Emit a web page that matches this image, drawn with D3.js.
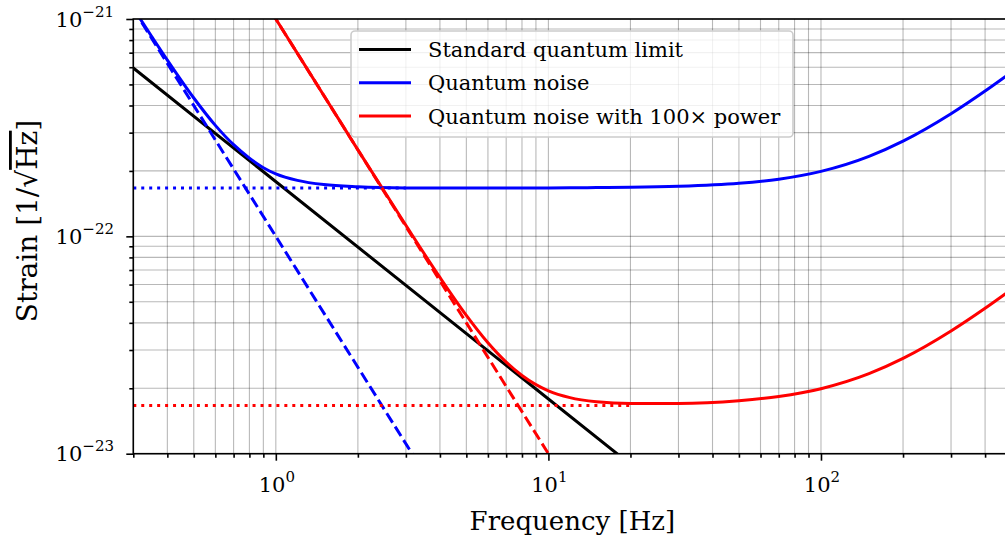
<!DOCTYPE html>
<html>
<head>
<meta charset="utf-8">
<script src="https://cdn.jsdelivr.net/npm/d3@7"></script>
<style>
  body { margin: 0; background: #fff; }
  svg { display: block; }
  text { font-family: "DejaVu Serif", serif; fill: #000; }
</style>
</head>
<body>
<svg id="chart"></svg>
<script>
const freqs = [0.3, 0.35, 0.4, 0.5, 0.6, 0.7, 0.8, 0.9, 1, 1.2, 1.5, 2, 3, 4, 5, 6, 7, 8, 10, 12, 15, 20, 30, 50, 70, 100, 150, 200, 300, 400, 500];
// quantum noise, strain 1/sqrt(Hz)
const quantumNoise = [1.12e-21, 8.33e-22, 6.47e-22, 4.33e-22, 3.24e-22, 2.64e-22, 2.29e-22, 2.07e-22, 1.94e-22, 1.81e-22, 1.73e-22, 1.69e-22, 1.67e-22, 1.668e-22, 1.668e-22, 1.668e-22, 1.669e-22, 1.669e-22, 1.671e-22, 1.672e-22, 1.676e-22, 1.681e-22, 1.699e-22, 1.754e-22, 1.833e-22, 1.991e-22, 2.334e-22, 2.744e-22, 3.669e-22, 4.666e-22, 5.697e-22];
// quantum noise with 100x power (starts above the frame)
const quantumNoise100 = [null, null, null, null, null, null, null, 1.235e-21, 1.0e-21, 6.95e-22, 4.45e-22, 2.5e-22, 1.124e-22, 6.47e-23, 4.33e-23, 3.24e-23, 2.64e-23, 2.29e-23, 1.947e-23, 1.811e-23, 1.733e-23, 1.70e-23, 1.702e-23, 1.754e-23, 1.833e-23, 1.991e-23, 2.334e-23, 2.744e-23, 3.669e-23, 4.666e-23, 5.697e-23];
// straight lines on log-log: [freq, strain] end points
const sqlLine = [[0.3, 5.95e-22], [20, 8.93e-24]];
const radPressure = [[0.3, 1.111e-21], [3.5, 8.16e-24]];
const radPressure100 = [[0.9, 1.235e-21], [11, 8.26e-24]];
const shotNoise = [[0.3, 1.667e-22], [3, 1.667e-22]];
const shotNoise100 = [[0.3, 1.667e-23], [20, 1.667e-23]];

const legendLabels = ["Standard quantum limit", "Quantum noise", "Quantum noise with 100\u00d7 power"];
const legendColors = ["#000000", "#0000ff", "#ff0000"];

const xMajor = [1, 10, 100];
const xMajorExp = ["0", "1", "2"];
const yMajor = [1e-23, 1e-22, 1e-21];
const yMajorExp = ["\u221223", "\u221222", "\u221221"];

const width = 1005, height = 541;
const mLeft = 133.3, mRight = 1011.5, mTop = 19, mBottom = 453.7;

const svg = d3.select("#chart").attr("width", width).attr("height", height);

const x = d3.scaleLog().domain([0.3, 500]).range([mLeft, mRight]);
const y = d3.scaleLog().domain([1e-23, 1e-21]).range([mBottom, mTop]);

// minor tick positions
const xMinor = [];
[0.1, 1, 10, 100].forEach(d => { for (let k = 2; k <= 9; k++) { const v = d * k; if (v >= 0.3 && v <= 500) xMinor.push(v); } });
const yMinor = [];
[1e-23, 1e-22].forEach(d => { for (let k = 2; k <= 9; k++) yMinor.push(d * k); });

svg.append("defs").append("clipPath").attr("id", "clip")
  .append("rect").attr("x", mLeft).attr("y", mTop).attr("width", mRight - mLeft).attr("height", mBottom - mTop);

// grid
const grid = svg.append("g").attr("stroke", "#000").attr("stroke-opacity", 0.28).attr("stroke-width", 1.1);
grid.selectAll(".gx").data(xMajor.concat(xMinor)).enter().append("line")
  .attr("x1", d => x(d)).attr("x2", d => x(d)).attr("y1", mTop).attr("y2", mBottom);
grid.selectAll(".gy").data(yMajor.concat(yMinor)).enter().append("line")
  .attr("x1", mLeft).attr("x2", mRight).attr("y1", d => y(d)).attr("y2", d => y(d));

// curves
const plot = svg.append("g").attr("clip-path", "url(#clip)");
const line = d3.line().defined(d => d[1] != null).x(d => x(d[0])).y(d => y(d[1])).curve(d3.curveMonotoneX);

function draw(data, color, dash) {
  plot.append("path").datum(data).attr("d", line)
    .attr("fill", "none").attr("stroke", color).attr("stroke-width", 3)
    .attr("stroke-dasharray", dash || null)
    .attr("stroke-linecap", dash ? "butt" : "square").attr("stroke-linejoin", "round");
}
draw(sqlLine, "#000");
draw(freqs.map((f, i) => [f, quantumNoise[i]]), "#0000ff");
draw(freqs.map((f, i) => [f, quantumNoise100[i]]), "#ff0000");
draw(radPressure, "#0000ff", "11.1,4.8");
draw(shotNoise, "#0000ff", "3,4.95");
draw(radPressure100, "#ff0000", "11.1,4.8");
draw(shotNoise100, "#ff0000", "3,4.95");

// axes
const xAxis = svg.append("g").attr("transform", `translate(0,${mBottom})`);
xAxis.call(d3.axisBottom(x).tickValues(xMinor).tickSize(4).tickFormat(""));
xAxis.append("g").call(d3.axisBottom(x).tickValues(xMajor).tickSize(7).tickFormat(""));
const yAxis = svg.append("g").attr("transform", `translate(${mLeft},0)`);
yAxis.call(d3.axisLeft(y).tickValues(yMinor).tickSize(4).tickFormat(""));
yAxis.append("g").call(d3.axisLeft(y).tickValues(yMajor).tickSize(7).tickFormat(""));
svg.selectAll(".domain").remove();
svg.selectAll(".tick line").attr("stroke", "#000").attr("stroke-width", 1.6);

// frame
svg.append("rect").attr("x", mLeft).attr("y", mTop).attr("width", mRight - mLeft).attr("height", mBottom - mTop)
  .attr("fill", "none").attr("stroke", "#000").attr("stroke-width", 1.6);

// tick labels
xMajor.forEach((v, i) => {
  const t = svg.append("text").attr("x", x(v) + 1).attr("y", 492).attr("text-anchor", "middle").attr("font-size", 21);
  t.append("tspan").text("10");
  t.append("tspan").attr("dy", -10).attr("font-size", 15).text(xMajorExp[i]);
});
yMajor.forEach((v, i) => {
  const t = svg.append("text").attr("x", 114).attr("y", y(v) + 7.5).attr("text-anchor", "end").attr("font-size", 21);
  t.append("tspan").text("10");
  t.append("tspan").attr("dy", -10).attr("font-size", 15).text(yMajorExp[i]);
});

// axis labels
svg.append("text").attr("x", (mLeft + mRight) / 2).attr("y", 530).attr("text-anchor", "middle")
  .attr("font-size", 26).text("Frequency [Hz]");
const yl = svg.append("text").attr("transform", `translate(37,221) rotate(-90)`)
  .attr("text-anchor", "middle").attr("font-size", 28);
yl.append("tspan").text("Strain [1/\u221a");
yl.append("tspan").style("text-decoration", "overline").text("Hz");
yl.append("tspan").text("]");

// legend
const lg = svg.append("g");
lg.append("rect").attr("x", 351).attr("y", 31).attr("width", 442).attr("height", 106).attr("rx", 4)
  .attr("fill", "#fff").attr("fill-opacity", 0.8).attr("stroke", "#cccccc").attr("stroke-width", 1.6);
legendLabels.forEach((lab, i) => {
  const cy = 49.5 + i * 33.3;
  lg.append("line").attr("x1", 359).attr("x2", 411).attr("y1", cy).attr("y2", cy)
    .attr("stroke", legendColors[i]).attr("stroke-width", 3);
  lg.append("text").attr("x", 428).attr("y", cy + 7.5).attr("font-size", 21).text(lab);
});
</script>
</body>
</html>
